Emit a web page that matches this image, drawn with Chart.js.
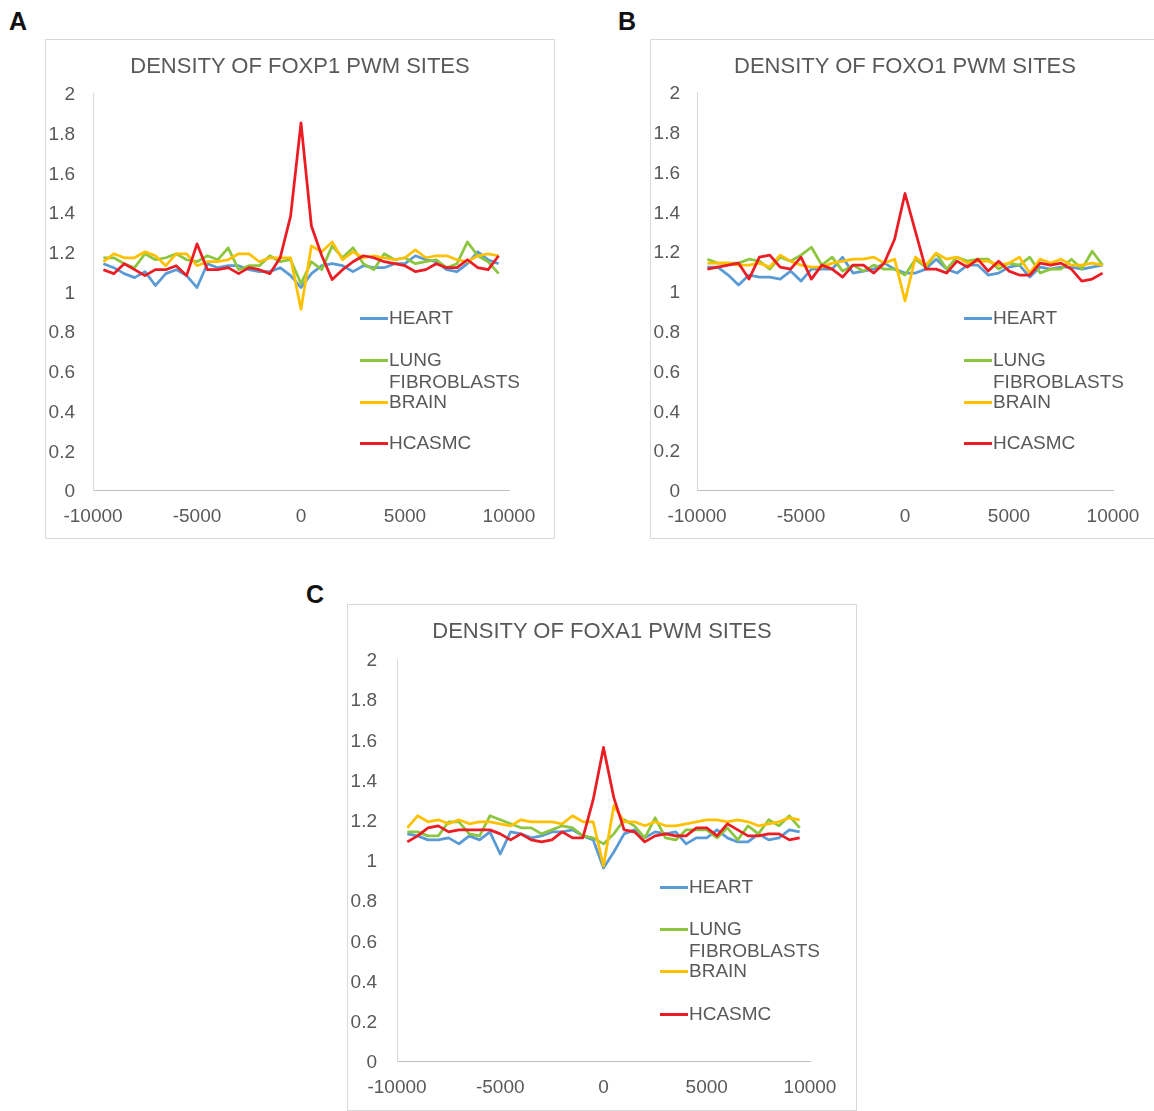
<!DOCTYPE html>
<html>
<head>
<meta charset="utf-8">
<script src="https://cdn.jsdelivr.net/npm/chart.js@4.4.0/dist/chart.umd.min.js"></script>
<style>
  html, body { margin: 0; padding: 0; overflow: hidden; background: #fff; }
  body { width: 1154px; height: 1111px; position: relative; font-family: "Liberation Sans", Arial, sans-serif; }
  .letter { position: absolute; font-weight: bold; font-size: 25px; line-height: 24px; color: #111; }
  .panel { position: absolute; }
  .panel canvas { position: absolute; left: 0; top: 0; }
  .frame { position: absolute; left: 0; top: 0; right: 0; bottom: 0; border: 1px solid #d9d9d9; pointer-events: none; }
  .title { position: absolute; left: 0; width: 100%; top: 15px; text-align: center; font-size: 22px; line-height: 24px; color: #595959; }
  .item { position: absolute; white-space: nowrap; }
  .swatch { position: absolute; left: 0; top: -1px; width: 28px; height: 2.5px; }
  .label { position: absolute; left: 29px; top: -11px; font-size: 19px; line-height: 22px; color: #595959; }
</style>
</head>
<body>

<div class="letter" style="left:9px; top:9px;">A</div>
<div class="letter" style="left:618px; top:9px;">B</div>
<div class="letter" style="left:306px; top:582px;">C</div>

<div class="panel" id="panelA" style="left:45px; top:39px; width:510px; height:500px;">
  <canvas id="chartA" width="510" height="500"></canvas>
  <div class="title">DENSITY OF FOXP1 PWM SITES</div>
  <div class="frame"></div>
</div>
<div class="panel" id="panelB" style="left:650px; top:39px; width:510px; height:500px;">
  <canvas id="chartB" width="510" height="500"></canvas>
  <div class="title">DENSITY OF FOXO1 PWM SITES</div>
  <div class="frame"></div>
</div>
<div class="panel" id="panelC" style="left:347px; top:604px; width:510px; height:507px;">
  <canvas id="chartC" width="510" height="507"></canvas>
  <div class="title">DENSITY OF FOXA1 PWM SITES</div>
  <div class="frame"></div>
</div>

<script>
// distance from TSS (bp)
const positions = [-9500, -9000, -8500, -8000, -7500, -7000, -6500, -6000, -5500, -5000,
  -4500, -4000, -3500, -3000, -2500, -2000, -1500, -1000, -500, 0,
  500, 1000, 1500, 2000, 2500, 3000, 3500, 4000, 4500, 5000,
  5500, 6000, 6500, 7000, 7500, 8000, 8500, 9000, 9500];

const xTicks = [-10000, -5000, 0, 5000, 10000];
const yTicks = [0, 0.2, 0.4, 0.6, 0.8, 1, 1.2, 1.4, 1.6, 1.8, 2];

const seriesNames = ['HEART', 'LUNG FIBROBLASTS', 'BRAIN', 'HCASMC'];
const seriesColors = ['#5b9bd5', '#8cc63f', '#ffc000', '#ec1c24'];

// A - FOXP1
const heartA = [1.14, 1.12, 1.09, 1.07, 1.10, 1.03, 1.09, 1.11, 1.08, 1.02, 1.14, 1.12, 1.13, 1.13, 1.11, 1.10, 1.10, 1.12, 1.08, 1.02,
  1.09, 1.13, 1.14, 1.13, 1.10, 1.13, 1.12, 1.12, 1.14, 1.14, 1.18, 1.16, 1.15, 1.11, 1.10, 1.14, 1.20, 1.16, 1.14];
const lungA = [1.17, 1.17, 1.14, 1.12, 1.19, 1.16, 1.17, 1.19, 1.16, 1.15, 1.18, 1.16, 1.22, 1.11, 1.13, 1.13, 1.18, 1.15, 1.16, 1.04,
  1.15, 1.11, 1.23, 1.17, 1.22, 1.14, 1.11, 1.19, 1.16, 1.17, 1.14, 1.15, 1.16, 1.12, 1.14, 1.25, 1.18, 1.15, 1.09];
const brainA = [1.15, 1.19, 1.17, 1.17, 1.20, 1.18, 1.13, 1.19, 1.19, 1.13, 1.15, 1.15, 1.16, 1.19, 1.19, 1.15, 1.17, 1.17, 1.17, 0.91,
  1.23, 1.20, 1.25, 1.16, 1.20, 1.17, 1.18, 1.17, 1.16, 1.17, 1.21, 1.17, 1.18, 1.18, 1.16, 1.15, 1.18, 1.19, 1.18];
const hcasmcA = [1.11, 1.09, 1.14, 1.11, 1.08, 1.11, 1.11, 1.13, 1.08, 1.24, 1.11, 1.11, 1.12, 1.09, 1.12, 1.11, 1.09, 1.17, 1.38, 1.85,
  1.33, 1.18, 1.06, 1.11, 1.15, 1.18, 1.17, 1.15, 1.14, 1.13, 1.10, 1.11, 1.14, 1.12, 1.12, 1.16, 1.12, 1.11, 1.18];

// B - FOXO1
const heartB = [1.12, 1.12, 1.08, 1.03, 1.08, 1.07, 1.07, 1.06, 1.10, 1.05, 1.11, 1.11, 1.11, 1.17, 1.09, 1.10, 1.11, 1.14, 1.11, 1.09,
  1.09, 1.11, 1.16, 1.11, 1.09, 1.13, 1.13, 1.08, 1.09, 1.12, 1.13, 1.07, 1.12, 1.11, 1.12, 1.12, 1.11, 1.12, 1.13];
const lungB = [1.16, 1.14, 1.14, 1.14, 1.16, 1.15, 1.11, 1.17, 1.15, 1.18, 1.22, 1.13, 1.17, 1.10, 1.13, 1.10, 1.13, 1.11, 1.11, 1.08,
  1.16, 1.12, 1.19, 1.11, 1.17, 1.15, 1.16, 1.16, 1.11, 1.14, 1.13, 1.17, 1.09, 1.11, 1.11, 1.16, 1.11, 1.20, 1.13];
const brainB = [1.14, 1.14, 1.14, 1.13, 1.13, 1.14, 1.12, 1.18, 1.15, 1.13, 1.12, 1.12, 1.14, 1.15, 1.16, 1.16, 1.17, 1.14, 1.16, 0.95,
  1.17, 1.13, 1.19, 1.16, 1.17, 1.14, 1.15, 1.15, 1.13, 1.14, 1.17, 1.09, 1.16, 1.14, 1.16, 1.13, 1.13, 1.14, 1.13];
const hcasmcB = [1.11, 1.12, 1.13, 1.14, 1.06, 1.17, 1.18, 1.12, 1.11, 1.17, 1.06, 1.13, 1.11, 1.07, 1.13, 1.13, 1.09, 1.14, 1.26, 1.49,
  1.30, 1.11, 1.11, 1.09, 1.15, 1.12, 1.16, 1.10, 1.15, 1.10, 1.08, 1.08, 1.14, 1.13, 1.14, 1.11, 1.05, 1.06, 1.09];

// C - FOXA1
const heartC = [1.13, 1.12, 1.10, 1.10, 1.11, 1.08, 1.12, 1.10, 1.14, 1.03, 1.14, 1.13, 1.11, 1.12, 1.14, 1.14, 1.15, 1.12, 1.10, 0.96,
  1.04, 1.13, 1.15, 1.11, 1.14, 1.13, 1.14, 1.08, 1.11, 1.11, 1.15, 1.11, 1.09, 1.09, 1.13, 1.10, 1.11, 1.15, 1.14];
const lungC = [1.14, 1.14, 1.12, 1.12, 1.19, 1.19, 1.13, 1.12, 1.22, 1.20, 1.18, 1.16, 1.16, 1.13, 1.15, 1.17, 1.16, 1.12, 1.11, 1.08,
  1.13, 1.20, 1.17, 1.11, 1.21, 1.11, 1.10, 1.15, 1.15, 1.15, 1.11, 1.16, 1.10, 1.17, 1.13, 1.20, 1.17, 1.22, 1.16];
const brainC = [1.16, 1.22, 1.19, 1.20, 1.18, 1.20, 1.18, 1.19, 1.19, 1.18, 1.17, 1.20, 1.19, 1.19, 1.19, 1.18, 1.22, 1.19, 1.19, 0.97,
  1.27, 1.19, 1.19, 1.17, 1.19, 1.17, 1.17, 1.18, 1.19, 1.20, 1.20, 1.19, 1.20, 1.19, 1.17, 1.18, 1.19, 1.21, 1.20];
const hcasmcC = [1.09, 1.12, 1.16, 1.17, 1.14, 1.15, 1.15, 1.15, 1.15, 1.13, 1.10, 1.13, 1.10, 1.09, 1.10, 1.14, 1.11, 1.11, 1.30, 1.56,
  1.31, 1.15, 1.14, 1.09, 1.12, 1.13, 1.12, 1.12, 1.16, 1.16, 1.12, 1.18, 1.15, 1.12, 1.12, 1.13, 1.13, 1.10, 1.11];

const fontFamily = "'Liberation Sans', Arial, sans-serif";
const textColor = '#595959';

function addLegend(panelId, left, rows) {
  const panel = document.getElementById(panelId);
  seriesNames.forEach((name, i) => {
    const item = document.createElement('div');
    item.className = 'item';
    item.style.left = left + 'px';
    item.style.top = rows[i] + 'px';
    const sw = document.createElement('div');
    sw.className = 'swatch';
    sw.style.background = seriesColors[i];
    const lb = document.createElement('div');
    lb.className = 'label';
    lb.innerHTML = name.replace(' ', '<br>');
    item.appendChild(sw);
    item.appendChild(lb);
    panel.appendChild(item);
  });
}

function makeChart(canvasId, values, area) {
  const canvas = document.getElementById(canvasId);
  const W = canvas.width, H = canvas.height;

  const datasets = values.map((vals, i) => ({
    label: seriesNames[i],
    data: positions.map((x, j) => ({ x: x, y: vals[j] })),
    borderColor: seriesColors[i],
    backgroundColor: seriesColors[i],
    borderWidth: 2.75,
    borderJoinStyle: 'round',
    pointRadius: 0,
    tension: 0,
    fill: false,
    order: 3 - i
  }));

  new Chart(canvas, {
    type: 'line',
    data: { datasets: datasets },
    options: {
      responsive: false,
      animation: false,
      layout: {
        padding: { left: 0, top: area.top, right: W - area.right, bottom: 0 }
      },
      plugins: {
        legend: { display: false },
        tooltip: { enabled: false },
        title: { display: false }
      },
      scales: {
        x: {
          type: 'linear',
          min: -10000,
          max: 10000,
          afterFit: s => { s.height = H - area.bottom; },
          afterBuildTicks: s => { s.ticks = xTicks.map(v => ({ value: v })); },
          grid: { display: false, drawTicks: false },
          border: { display: true, color: '#bfbfbf', width: 1 },
          ticks: {
            padding: 15,
            color: textColor,
            font: { family: fontFamily, size: 19 },
            maxRotation: 0,
            autoSkip: false,
            callback: v => String(v)
          }
        },
        y: {
          min: 0,
          max: 2,
          afterFit: s => { s.width = area.left; },
          afterBuildTicks: s => { s.ticks = yTicks.map(v => ({ value: v })); },
          grid: { display: false, drawTicks: false },
          border: { display: true, color: '#d9d9d9', width: 1 },
          ticks: {
            padding: area.left - 30,
            labelOffset: 2,
            color: textColor,
            font: { family: fontFamily, size: 19 },
            autoSkip: false,
            callback: v => String(Number(v.toFixed(1)))
          }
        }
      }
    }
  });
}

makeChart('chartA', [heartA, lungA, brainA, hcasmcA], { left: 48, top: 54, right: 464, bottom: 451 });
makeChart('chartB', [heartB, lungB, brainB, hcasmcB], { left: 47, top: 53, right: 463, bottom: 451 });
makeChart('chartC', [heartC, lungC, brainC, hcasmcC], { left: 50, top: 55, right: 463, bottom: 457 });

addLegend('panelA', 315, [279, 321, 363, 404]);
addLegend('panelB', 314, [279, 321, 363, 404]);
addLegend('panelC', 313, [283, 325, 367, 410]);
</script>
</body>
</html>
